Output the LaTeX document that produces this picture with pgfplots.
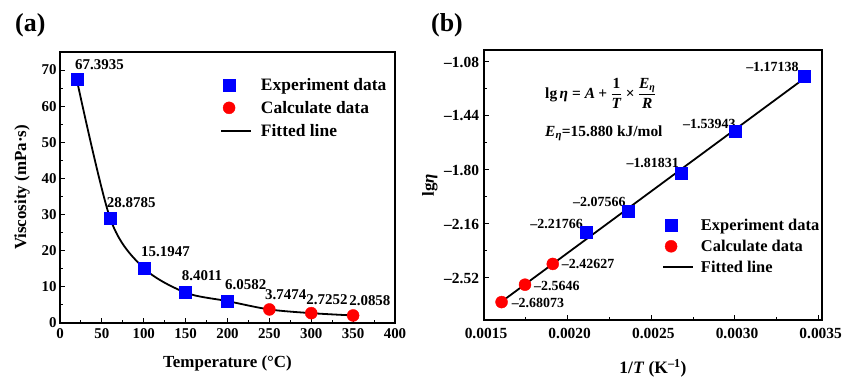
\documentclass[border=0pt]{standalone}
\usepackage{pgfplots}
\pgfplotsset{compat=1.18}
\usepackage{fontspec}
\setmainfont{Liberation Serif}
\definecolor{myblue}{RGB}{0,0,255}
\definecolor{myred}{RGB}{255,0,0}
\newcommand{\fs}[1]{\fontsize{#1}{#1}\selectfont\bfseries}

\begin{document}
\begin{tikzpicture}
\path[use as bounding box] (0,0) rectangle (844bp,377bp);
\pgfplotsset{
 common/.style={
  scale only axis, anchor=south west,
  axis line style={line width=1.4bp},
  tick align=inside, xtick pos=bottom, ytick pos=left,
  major tick length=5bp, minor tick length=3bp,
  every tick/.style={black, line width=1bp},
  /pgf/number format/assume math mode=true,
  legend cell align=left,
  legend image code/.code={\draw[mark repeat=2,mark phase=2,##1] plot coordinates {(0bp,0bp)(8bp,0bp)(30bp,0bp)};},
 },
 expstyle/.style={only marks, mark=square*, mark size=6bp, color=myblue},
 calcstyle/.style={only marks, mark=*, mark size=6bp, color=myred},
 fitstyle/.style={black, line width=1.8bp, no marks},
}

\node[anchor=west, font=\fs{26}, inner sep=0pt] at (15bp,352bp) {(a)};
\node[anchor=west, font=\fs{26}, inner sep=0pt] at (431bp,352bp) {(b)};

% ---------------- (a)
\begin{axis}[common, at={(60bp,54bp)}, width=335bp, height=271bp,
 xmin=0, xmax=400, ymin=0, ymax=75,
 xtick={0,50,...,400}, ytick={0,10,...,70},
 minor x tick num=1, minor y tick num=1,
 ticklabel style={font=\fs{15}},
 xticklabel style={yshift=-2bp},
 xlabel={Temperature (°C)}, ylabel={Viscosity (mPa·s)},
 xlabel style={font=\fs{17}, at={(axis description cs:0.5,-0.1476)}, anchor=center},
 ylabel style={font=\fs{17}, at={(axis description cs:-0.113,0.5)}, anchor=center},
 legend style={at={(axis description cs:0.4776,0.905)}, anchor=north west, draw=none, fill=none,
   font=\fs{17.5}, inner sep=0pt, row sep=9.5bp, column sep=9bp, nodes={inner sep=0pt}},
]
\addplot[expstyle] coordinates {(20,67.3935) (60,28.8785) (100,15.1947) (150,8.4011) (200,6.0582)};
\addlegendentry{Experiment data}
\addplot[calcstyle] coordinates {(250,3.7474) (300,2.7252) (350,2.0858)};
\addlegendentry{Calculate data}
\addplot[fitstyle, smooth, tension=0.5] coordinates {(20,67.3935) (60,28.8785) (100,15.1947) (150,8.4011) (200,6.0582) (250,3.7474) (300,2.7252) (350,2.0858)};
\addlegendentry{Fitted line}

\begin{scope}[every node/.style={anchor=west, font=\fs{15}, inner sep=0pt}]
\node[xshift=-1.75bp, yshift=14.5bp] at (axis cs:20,67.3935) {67.3935};
\node[xshift=-3.5bp, yshift=15.7bp] at (axis cs:60,28.8785) {28.8785};
\node[xshift=-2.75bp, yshift=16.4bp] at (axis cs:100,15.1947) {15.1947};
\node[xshift=-4bp, yshift=17.5bp] at (axis cs:150,8.4011) {8.4011};
\node[xshift=-2.5bp, yshift=16bp] at (axis cs:200,6.0582) {6.0582};
\node[xshift=-4.4bp, yshift=14.5bp] at (axis cs:250,3.7474) {3.7474};
\node[xshift=-5bp, yshift=13bp] at (axis cs:300,2.7252) {2.7252};
\node[xshift=-4bp, yshift=15bp] at (axis cs:350,2.0858) {2.0858};
\end{scope}
\end{axis}

% ---------------- (b)
\begin{axis}[common, at={(484bp,57bp)}, width=338bp, height=270bp,
 xmin=0.0015, xmax=0.00352, ymin=-2.8, ymax=-1.0,
 xtick={0.0015,0.002,0.0025,0.003,0.0035},
 xticklabels={0.0015,0.0020,0.0025,0.0030,0.0035},
 scaled x ticks=false,
 ytick={-2.52,-2.16,-1.8,-1.44,-1.08},
 yticklabels={–2.52,–2.16,–1.80,–1.44,–1.08},
 minor x tick num=1, minor y tick num=1,
 ticklabel style={font=\fs{15.5}},
 xticklabel style={yshift=-5bp, xshift=2bp},
 yticklabel style={xshift=-1.5bp},
 xlabel={1/\textit{T} (K\textsuperscript{–1})}, ylabel={lg\textit{η}},
 xlabel style={font=\fs{17.5}, at={(axis description cs:0.5,-0.178)}, anchor=center},
 ylabel style={font=\fs{17}, at={(axis description cs:-0.16,0.5)}, anchor=center},
 legend style={at={(axis description cs:0.5266,0.375)}, anchor=north west, draw=none, fill=none,
   font=\fs{16.5}, inner sep=0pt, row sep=8bp, column sep=7bp, nodes={inner sep=0pt}},
]
\addplot[expstyle] coordinates {(0.003411,-1.17138) (0.003002,-1.53943) (0.002680,-1.81831) (0.002363,-2.07566) (0.002113,-2.21766)};
\addlegendentry{Experiment data}
\addplot[calcstyle] coordinates {(0.001911,-2.42627) (0.001745,-2.5646) (0.001605,-2.68073)};
\addlegendentry{Calculate data}
\addplot[fitstyle] coordinates {(0.001605,-2.6777) (0.003411,-1.1921)};
\addlegendentry{Fitted line}

\begin{scope}[every node/.style={font=\fs{14}, inner sep=0pt}]
\node[anchor=east, xshift=-5bp, yshift=9bp] at (axis cs:0.003411,-1.17138) {–1.17138};
\node[anchor=east, xshift=0.4bp, yshift=7bp] at (axis cs:0.003002,-1.53943) {–1.53943};
\node[anchor=east, xshift=-2.4bp, yshift=10bp] at (axis cs:0.002680,-1.81831) {–1.81831};
\node[anchor=east, xshift=-2.7bp, yshift=9bp] at (axis cs:0.002363,-2.07566) {–2.07566};
\node[anchor=east, xshift=-3.6bp, yshift=9bp] at (axis cs:0.002113,-2.21766) {–2.21766};
\node[anchor=west, xshift=9bp, yshift=0bp] at (axis cs:0.001911,-2.42627) {–2.42627};
\node[anchor=west, xshift=9bp, yshift=-1bp] at (axis cs:0.001745,-2.5646) {–2.5646};
\node[anchor=west, xshift=10bp, yshift=-1bp] at (axis cs:0.001605,-2.68073) {–2.68073};
\end{scope}

\node[anchor=west, font=\fs{15.5}, inner sep=0pt] at (axis description cs:0.1805,0.84)
 {$\displaystyle \textbf{lg}\,\textbf{\textit{η}} \mathrel{\textbf{=}} \textbf{\textit{A}} \mathbin{\textbf{+}} \frac{\textbf{1}}{\textbf{\textit{T}}}\mathbin{\textbf{×}}\frac{\textbf{\textit{E}}_{\hbox{\fontsize{10}{10}\selectfont\bfseries\itshape η}}}{\textbf{\textit{R}}}$};
\node[anchor=west, font=\fs{15.5}, inner sep=0pt] at (axis description cs:0.1805,0.6926)
 {\textit{E}\textsubscript{\textit{η}}=15.880 kJ/mol};
\end{axis}
\end{tikzpicture}
\end{document}
